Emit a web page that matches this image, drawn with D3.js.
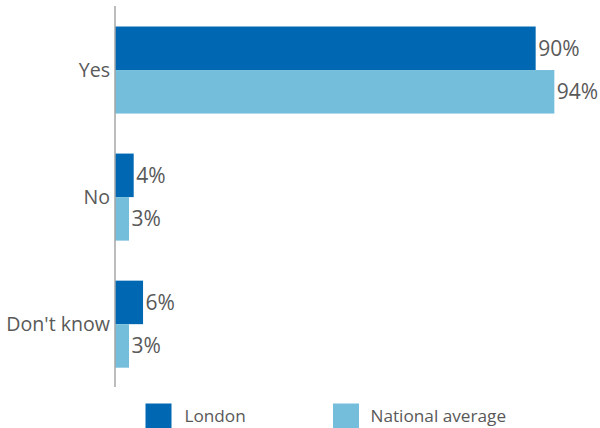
<!DOCTYPE html>
<html>
<head>
<meta charset="utf-8">
<script src="https://cdn.jsdelivr.net/npm/d3@7"></script>
<style>
  html, body { margin: 0; padding: 0; background: #fff; }
  svg { display: block; }
  text { font-family: "Open Sans", "DejaVu Sans", sans-serif; fill: #595959; }
</style>
</head>
<body>
<svg id="chart" width="600" height="428"></svg>
<script>
// Survey answers and the share (%) for each group
const categories = ["Yes", "No", "Don't know"];
const seriesNames = ["London", "National average"];
const londonValues = [90, 4, 6];
const nationalValues = [94, 3, 3];
const seriesColors = ["#0068B3", "#74BEDB"];

const W = 600, H = 428;
const svg = d3.select("#chart");

const axisX = 115;
const x = d3.scaleLinear().domain([0, 100]).range([axisX, axisX + 467.4]);

const y = d3.scaleBand()
  .domain(categories)
  .range([6.5, 387.7])
  .paddingInner(0.315)
  .paddingOuter(0.1575);

const y1 = d3.scaleBand().domain(seriesNames).range([0, y.bandwidth()]);

const rows = categories.map((c, i) => ({
  category: c,
  values: [
    { series: seriesNames[0], value: londonValues[i] },
    { series: seriesNames[1], value: nationalValues[i] }
  ]
}));

const color = d3.scaleOrdinal().domain(seriesNames).range(seriesColors);

const groups = svg.append("g").selectAll("g")
  .data(rows).join("g")
  .attr("transform", d => `translate(0,${y(d.category)})`);

groups.selectAll("rect")
  .data(d => d.values).join("rect")
  .attr("x", x(0))
  .attr("y", d => y1(d.series))
  .attr("width", d => x(d.value) - x(0))
  .attr("height", y1.bandwidth())
  .attr("fill", d => color(d.series));

groups.selectAll("text.value")
  .data(d => d.values).join("text")
  .attr("class", "value")
  .attr("x", d => x(d.value) + 2.5)
  .attr("y", d => y1(d.series) + y1.bandwidth() / 2)
  .attr("dy", "0.36em")
  .style("font-size", "21px")
  .text(d => d.value + "%");

// Category axis: plain vertical line with labels, no ticks
const yAxis = d3.axisLeft(y).tickSize(0).tickPadding(5);
const axisG = svg.append("g")
  .attr("transform", `translate(${axisX},0)`)
  .call(yAxis);
axisG.select(".domain").remove();
axisG.selectAll("text")
  .attr("fill", "#595959")
  .style("font-family", "'Open Sans', 'DejaVu Sans', sans-serif")
  .style("font-size", "19.6px")
  .attr("dy", "0.36em");
svg.append("line")
  .attr("x1", axisX).attr("x2", axisX)
  .attr("y1", 6).attr("y2", 387)
  .attr("stroke", "#A6A6A6")
  .attr("stroke-width", 1.5);

// Legend
const legendX = [145.5, 333];
const legend = svg.append("g").selectAll("g")
  .data(seriesNames).join("g")
  .attr("transform", (d, i) => `translate(${legendX[i]},403.5)`);
legend.append("rect")
  .attr("width", 26).attr("height", 26)
  .attr("fill", d => color(d));
legend.append("text")
  .attr("x", (d, i) => i === 0 ? 39 : 37.5)
  .attr("y", 12)
  .attr("dy", "0.36em")
  .style("font-size", "17.2px")
  .text(d => d);
</script>
</body>
</html>
